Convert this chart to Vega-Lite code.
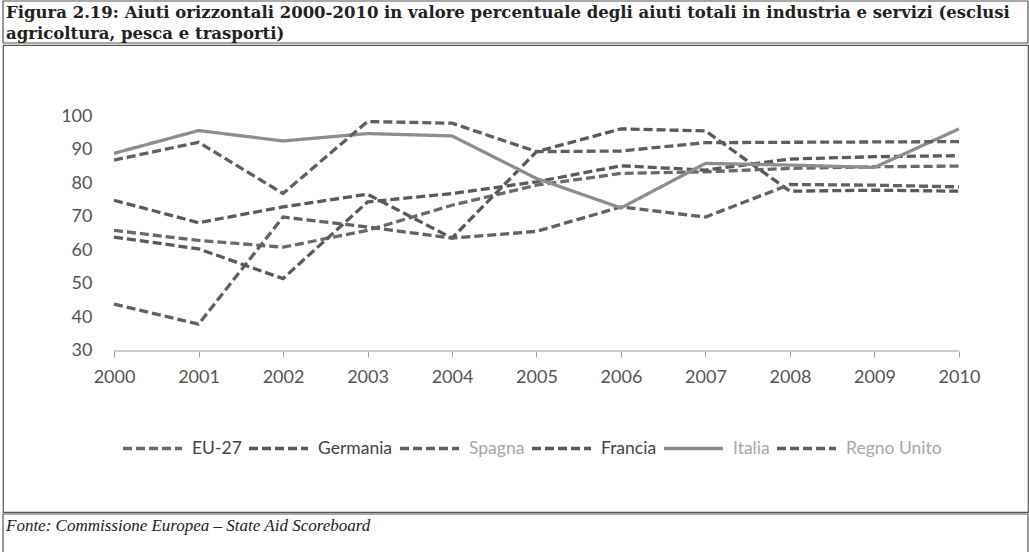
{
  "$schema": "https://vega.github.io/schema/vega-lite/v6.json",
  "background": "white",
  "padding": {"left": 2, "top": 0, "right": 2, "bottom": 0},
  "config": {
    "view": {"stroke": "#555555", "strokeWidth": 1.2},
    "concat": {"spacing": 0}
  },
  "datasets": {
    "aiuti": [
      {"anno": 2000, "serie": "EU-27", "valore": 66},
      {"anno": 2001, "serie": "EU-27", "valore": 63},
      {"anno": 2002, "serie": "EU-27", "valore": 61},
      {"anno": 2003, "serie": "EU-27", "valore": 66},
      {"anno": 2004, "serie": "EU-27", "valore": 73.5},
      {"anno": 2005, "serie": "EU-27", "valore": 79.5},
      {"anno": 2006, "serie": "EU-27", "valore": 83},
      {"anno": 2007, "serie": "EU-27", "valore": 83.5},
      {"anno": 2008, "serie": "EU-27", "valore": 84.5},
      {"anno": 2009, "serie": "EU-27", "valore": 85},
      {"anno": 2010, "serie": "EU-27", "valore": 85.2},
      {"anno": 2000, "serie": "Germania", "valore": 75},
      {"anno": 2001, "serie": "Germania", "valore": 68.3},
      {"anno": 2002, "serie": "Germania", "valore": 73},
      {"anno": 2003, "serie": "Germania", "valore": 76.8},
      {"anno": 2004, "serie": "Germania", "valore": 63.7},
      {"anno": 2005, "serie": "Germania", "valore": 89.5},
      {"anno": 2006, "serie": "Germania", "valore": 96.3},
      {"anno": 2007, "serie": "Germania", "valore": 95.7},
      {"anno": 2008, "serie": "Germania", "valore": 77.7},
      {"anno": 2009, "serie": "Germania", "valore": 78},
      {"anno": 2010, "serie": "Germania", "valore": 77.7},
      {"anno": 2000, "serie": "Spagna", "valore": 44},
      {"anno": 2001, "serie": "Spagna", "valore": 38},
      {"anno": 2002, "serie": "Spagna", "valore": 70},
      {"anno": 2003, "serie": "Spagna", "valore": 67},
      {"anno": 2004, "serie": "Spagna", "valore": 63.7},
      {"anno": 2005, "serie": "Spagna", "valore": 65.7},
      {"anno": 2006, "serie": "Spagna", "valore": 73},
      {"anno": 2007, "serie": "Spagna", "valore": 70},
      {"anno": 2008, "serie": "Spagna", "valore": 79.7},
      {"anno": 2009, "serie": "Spagna", "valore": 79.5},
      {"anno": 2010, "serie": "Spagna", "valore": 79},
      {"anno": 2000, "serie": "Francia", "valore": 64},
      {"anno": 2001, "serie": "Francia", "valore": 60.5},
      {"anno": 2002, "serie": "Francia", "valore": 51.6},
      {"anno": 2003, "serie": "Francia", "valore": 74.5},
      {"anno": 2004, "serie": "Francia", "valore": 77},
      {"anno": 2005, "serie": "Francia", "valore": 80.5},
      {"anno": 2006, "serie": "Francia", "valore": 85.3},
      {"anno": 2007, "serie": "Francia", "valore": 84},
      {"anno": 2008, "serie": "Francia", "valore": 87.3},
      {"anno": 2009, "serie": "Francia", "valore": 88},
      {"anno": 2010, "serie": "Francia", "valore": 88.3},
      {"anno": 2000, "serie": "Italia", "valore": 89},
      {"anno": 2001, "serie": "Italia", "valore": 95.8},
      {"anno": 2002, "serie": "Italia", "valore": 92.7},
      {"anno": 2003, "serie": "Italia", "valore": 94.9},
      {"anno": 2004, "serie": "Italia", "valore": 94.2},
      {"anno": 2005, "serie": "Italia", "valore": 81.5},
      {"anno": 2006, "serie": "Italia", "valore": 72.7},
      {"anno": 2007, "serie": "Italia", "valore": 86},
      {"anno": 2008, "serie": "Italia", "valore": 85.5},
      {"anno": 2009, "serie": "Italia", "valore": 84.8},
      {"anno": 2010, "serie": "Italia", "valore": 96.3},
      {"anno": 2000, "serie": "Regno Unito", "valore": 87},
      {"anno": 2001, "serie": "Regno Unito", "valore": 92.3},
      {"anno": 2002, "serie": "Regno Unito", "valore": 77},
      {"anno": 2003, "serie": "Regno Unito", "valore": 98.5},
      {"anno": 2004, "serie": "Regno Unito", "valore": 98},
      {"anno": 2005, "serie": "Regno Unito", "valore": 89.5},
      {"anno": 2006, "serie": "Regno Unito", "valore": 89.7},
      {"anno": 2007, "serie": "Regno Unito", "valore": 92.2},
      {"anno": 2008, "serie": "Regno Unito", "valore": 92.3},
      {"anno": 2009, "serie": "Regno Unito", "valore": 92.4},
      {"anno": 2010, "serie": "Regno Unito", "valore": 92.5}
    ]
  },
  "vconcat": [
    {
      "width": 1025,
      "height": 42,
      "data": {"values": [{"riquadro": "intestazione"}]},
      "mark": {"type": "rect", "fill": "white", "stroke": "#555555", "strokeWidth": 1.2},
      "encoding": {},
      "title": {
        "text": ["Figura 2.19: Aiuti orizzontali 2000-2010 in valore percentuale degli aiuti totali in industria e servizi (esclusi", "agricoltura, pesca e trasporti)"],
        "anchor": "start",
        "frame": "group",
        "orient": "top",
        "offset": -42,
        "dx": 3,
        "font": "DejaVu Serif",
        "fontWeight": "bold",
        "fontSize": 16.5,
        "lineHeight": 21,
        "color": "#222222"
      }
    },
    {
      "width": 1025,
      "height": 467,
      "layer": [
        {
          "data": {"values": [{"inizio": 2000, "fine": 2010, "base": 30}]},
          "mark": {"type": "rule", "color": "#a0a0a0", "strokeWidth": 1.2},
          "encoding": {
            "x": {"field": "inizio", "type": "quantitative"},
            "x2": {"field": "fine"},
            "y": {"field": "base", "type": "quantitative"}
          }
        },
        {
          "data": {"name": "aiuti"},
          "mark": {"type": "line", "strokeWidth": 3.3},
          "encoding": {
            "x": {
              "field": "anno",
              "type": "quantitative",
              "scale": {"domain": [1998.686, 2010.817], "nice": false, "zero": false},
              "axis": {
                "values": [2000, 2001, 2002, 2003, 2004, 2005, 2006, 2007, 2008, 2009, 2010],
                "format": "d",
                "domain": false,
                "ticks": true,
                "tickSize": 6,
                "tickColor": "#a0a0a0",
                "grid": false,
                "labelFont": "Lato",
                "labelFontSize": 18,
                "labelColor": "#555555",
                "labelPadding": 11,
                "offset": -161,
                "title": null
              }
            },
            "y": {
              "field": "valore",
              "type": "quantitative",
              "scale": {"domain": [-18.06, 121.34], "nice": false, "zero": false},
              "axis": {
                "values": [30, 40, 50, 60, 70, 80, 90, 100],
                "domain": false,
                "ticks": false,
                "grid": false,
                "labelFont": "Lato",
                "labelFontSize": 18,
                "labelColor": "#555555",
                "labelPadding": 0,
                "offset": -89,
                "title": null
              }
            },
            "color": {
              "field": "serie",
              "type": "nominal",
              "scale": {
                "domain": ["EU-27", "Germania", "Spagna", "Francia", "Italia", "Regno Unito"],
                "range": ["#6a6a6a", "#5a5a5a", "#626262", "#5a5a5a", "#8e8e8e", "#606060"]
              },
              "legend": {
                "orient": "none",
                "legendX": 118,
                "legendY": 416,
                "direction": "horizontal",
                "columns": 6,
                "title": null,
                "symbolType": "stroke",
                "symbolSize": 3481,
                "symbolStrokeWidth": 3.3,
                "labelFont": "Lato",
                "labelFontSize": 17.5,
                "labelOffset": 8,
                "columnPadding": 0,
                "encode": {
                  "labels": {
                    "update": {
                      "fill": {"signal": "indexof(['Spagna', 'Italia', 'Regno Unito'], datum.value) >= 0 ? '#a8a8a8' : '#444444'"}
                    }
                  }
                }
              }
            },
            "strokeDash": {
              "field": "serie",
              "type": "nominal",
              "scale": {
                "domain": ["EU-27", "Germania", "Spagna", "Francia", "Italia", "Regno Unito"],
                "range": [[9, 4], [9, 4], [9, 4], [9, 4], [1, 0], [9, 4]]
              }
            }
          }
        }
      ]
    },
    {
      "width": 1025,
      "height": 42,
      "data": {"values": [{"riquadro": "fonte"}]},
      "mark": {"type": "rect", "fill": "white", "stroke": "#555555", "strokeWidth": 1.2},
      "encoding": {},
      "title": {
        "text": "Fonte: Commissione Europea – State Aid Scoreboard",
        "anchor": "start",
        "frame": "group",
        "orient": "top",
        "offset": -22,
        "dx": 3,
        "font": "Liberation Serif",
        "fontStyle": "italic",
        "fontWeight": "normal",
        "fontSize": 17,
        "color": "#222222"
      }
    }
  ]
}
